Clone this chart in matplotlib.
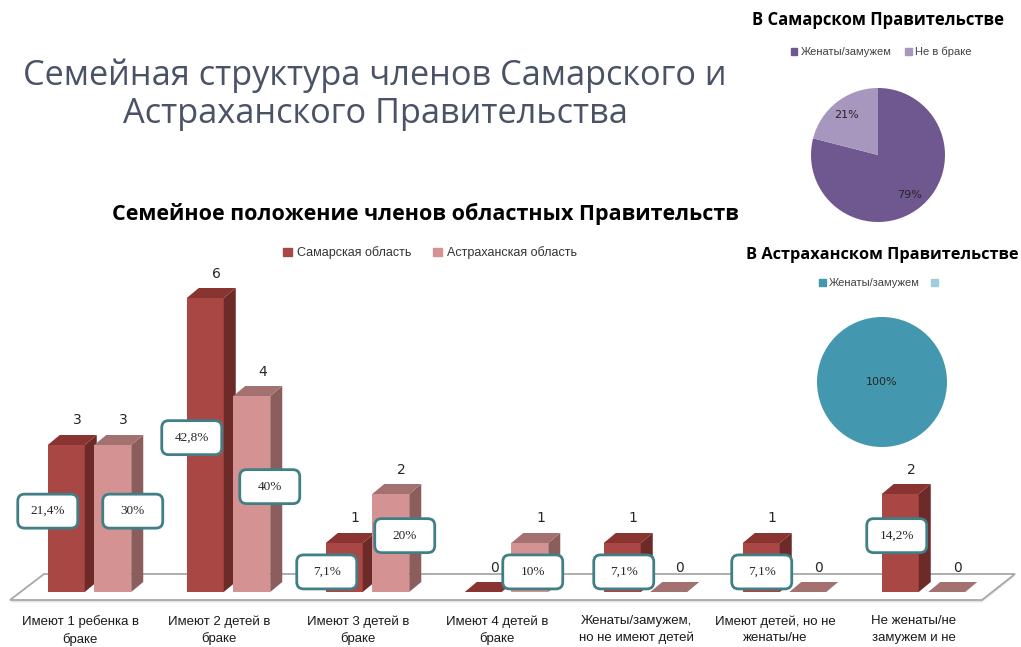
import numpy as np
import matplotlib
matplotlib.use('Agg')
import matplotlib.pyplot as plt
from matplotlib.patches import Polygon, FancyBboxPatch, Patch

# ---------------- data ----------------
categories = ['Имеют 1 ребенка в\nбраке', 'Имеют 2 детей в\nбраке', 'Имеют 3 детей в\nбраке',
              'Имеют 4 детей в\nбраке', 'Женаты/замужем,\nно не имеют детей',
              'Имеют детей, но не\nженаты/не', 'Не женаты/не\nзамужем и не']
series_names = ['Самарская область', 'Астраханская область']
samara = [3, 6, 1, 0, 1, 1, 2]
astrakhan = [3, 4, 2, 1, 0, 0, 0]
samara_pct = ['21,4%', '42,8%', '7,1%', '', '7,1%', '7,1%', '14,2%']
astrakhan_pct = ['30%', '40%', '20%', '10%', '', '', '']

samara_pie_labels = ['Женаты/замужем', 'Не в браке']
samara_pie = [79, 21]
astrakhan_pie_labels = ['Женаты/замужем', '']
astrakhan_pie = [100, 0]

main_title = 'Семейная структура членов Самарского и\nАстраханского Правительства'
chart_title = 'Семейное положение членов областных Правительств'
samara_pie_title = 'В Самарском Правительстве'
astrakhan_pie_title = 'В Астраханском Правительстве'

# ---------------- layout ----------------
W, H = 1021, 647
PXX, PXY = 139.0, 49.0          # pixels per category / per unit value
X0PX, BASEPX = 89.5, 592.0      # pixel of category 0 centre / baseline
fig = plt.figure(figsize=(W / 100, H / 100), dpi=100)
fig.patch.set_facecolor('white')
ax = fig.add_axes([0, 0, 1, 1])
ax.axis('off')

NARROW = ['Liberation Sans Narrow', 'Liberation Sans', 'DejaVu Sans']

def px2d(x, y):
    return ((x - X0PX) / PXX, (BASEPX - y) / PXY)

S_FRONT, S_SIDE, S_TOP = '#a94744', '#6c2a28', '#8a3431'
A_FRONT, A_SIDE, A_TOP = '#d49392', '#8b5e5d', '#a37170'
bw = 37 / PXX
off = 23.25 / PXX
ddx, ddy = 12 / PXX, 10 / PXY

# floor
floor = [px2d(10, 600), px2d(982, 600), px2d(1015, 574), px2d(44, 574)]
shadow = [(x, y - 2.5 / PXY) for x, y in floor]
ax.add_patch(Polygon(shadow, closed=True, facecolor='#e6e6e6', edgecolor='none', zorder=0))
ax.add_patch(Polygon(floor, closed=True, facecolor='white', edgecolor='#a8a8a8', lw=1.3, zorder=1))

x = np.arange(len(categories))

def bar3d(c, h, front, side, top, z):
    l, r = c - bw / 2, c + bw / 2
    if h > 0:
        ax.bar(c, h, width=bw, color=front, edgecolor='none', zorder=z)
        ax.add_patch(Polygon([(r, 0), (r + ddx, ddy), (r + ddx, h + ddy), (r, h)],
                             closed=True, facecolor=side, edgecolor='none', zorder=z))
    ax.add_patch(Polygon([(l, h), (r, h), (r + ddx, h + ddy), (l + ddx, h + ddy)],
                         closed=True, facecolor=top, edgecolor='none', zorder=z))

for i in x:
    bar3d(i - off, samara[i], S_FRONT, S_SIDE, S_TOP, 2 + i * 2)
    bar3d(i + off, astrakhan[i], A_FRONT, A_SIDE, A_TOP, 3 + i * 2)

# value labels
for i in x:
    for c, v in ((i - off, samara[i]), (i + off, astrakhan[i])):
        ax.text(c + 11 / PXX, v + 0.5, str(v), ha='center', va='center',
                fontsize=10, color='#262626', family='DejaVu Sans', zorder=30)

# percentage boxes
s_box_dx = [-18.5, -13.5, -17.5, 0, 1.5, 0.5, -3.5]
a_box_dx = [20, 18, 14, 3, 0, 0, 0]
bwid, bhei = 60 / PXX, 34 / PXY
def pct_box(cx, v, txt):
    cy = 0.41 if v <= 1 else v / 2 + 0.15
    ax.add_patch(FancyBboxPatch((cx - bwid / 2, cy - bhei / 2), bwid, bhei,
                                boxstyle='round,pad=0,rounding_size=0.05',
                                mutation_aspect=PXX / PXY,
                                facecolor='white', edgecolor='#417f86', lw=2, zorder=40))
    ax.text(cx, cy, txt, ha='center', va='center', fontsize=9.5,
            family='Liberation Serif', color='#262626', zorder=41)

for i in x:
    if samara_pct[i]:
        pct_box(i - off + s_box_dx[i] / PXX, samara[i], samara_pct[i])
    if astrakhan_pct[i]:
        pct_box(i + off + a_box_dx[i] / PXX, astrakhan[i], astrakhan_pct[i])

# category labels
cat_texts = []
for i in x:
    t = ax.text(i - 9.5 / PXX, px2d(0, 615)[1], categories[i], ha='center', va='top',
                fontsize=9.5, family=NARROW,
                color='#1a1a1a', linespacing=1.5, zorder=30)
    cat_texts.append(t)

ax.set_xlim(px2d(0, 0)[0], px2d(W, 0)[0])
ax.set_ylim(px2d(0, H)[1], px2d(0, 0)[1])

# ---------------- texts ----------------
renderer = fig.canvas.get_renderer()
def fit(t, target):
    bb = t.get_window_extent(renderer)
    t.set_fontsize(t.get_fontsize() * target / bb.width)

t = fig.text(375 / W, 1 - 95 / H, main_title, ha='center', va='center', color='#4a5366',
             family='Open Sans', fontsize=22, linespacing=1.15)
fit(t, 706)
t = fig.text(425 / W, 1 - 214 / H, chart_title, ha='center', va='center', color='black',
             family='Open Sans', weight='bold', fontsize=15)
fit(t, 630)
fit(cat_texts[0], 118)
for ct in cat_texts[1:]:
    ct.set_fontsize(cat_texts[0].get_fontsize())

t = fig.text(878 / W, 1 - 20 / H, samara_pie_title, ha='center', va='center', color='black',
             family='Open Sans', weight='bold', fontsize=11)
fit(t, 252)
t = fig.text(882 / W, 1 - 255 / H, astrakhan_pie_title, ha='center', va='center', color='black',
             family='Open Sans', weight='bold', fontsize=11)
fit(t, 272)

# bar legend
fig.legend([Patch(color=S_FRONT), Patch(color=A_FRONT)], series_names, loc='center',
           bbox_to_anchor=(430 / W, 1 - 253 / H), ncol=2, frameon=False,
           prop={'family': NARROW, 'size': 9},
           handlelength=0.7, handleheight=0.7, handletextpad=0.4, columnspacing=1.8,
           labelcolor='#333333')

# ---------------- pies ----------------
def pie_axes(cx, cy, r):
    return fig.add_axes([(cx - r) / W, (H - cy - r) / H, 2 * r / W, 2 * r / H])

P_MAIN, P_LIGHT = '#6f5790', '#a797bf'
pax = pie_axes(878, 155, 67)
pax.pie(samara_pie, colors=[P_MAIN, P_LIGHT], startangle=90, counterclock=False,
        autopct=lambda p: f'{p:.0f}%' if p > 0 else '', pctdistance=0.76,
        textprops={'fontsize': 8, 'color': '#262626'}, radius=1)
pax.set_xlim(-1, 1); pax.set_ylim(-1, 1); pax.set_aspect('equal')
fig.legend([Patch(color=P_MAIN), Patch(color=P_LIGHT)], samara_pie_labels, loc='center',
           bbox_to_anchor=(881 / W, 1 - 52 / H), ncol=2, frameon=False,
           prop={'family': NARROW, 'size': 8},
           handlelength=0.6, handleheight=0.6, handletextpad=0.3, columnspacing=1.2,
           labelcolor='#404040')

T_MAIN, T_LIGHT = '#4397ae', '#9fcddd'
pax2 = pie_axes(882, 382, 65)
pax2.pie(astrakhan_pie, colors=[T_MAIN, T_LIGHT], startangle=90, counterclock=False,
         autopct=lambda p: f'{p:.0f}%' if p > 0 else '', pctdistance=0.0,
         textprops={'fontsize': 8, 'color': '#262626'}, radius=1)
pax2.set_xlim(-1, 1); pax2.set_ylim(-1, 1); pax2.set_aspect('equal')
fig.legend([Patch(color=T_MAIN), Patch(color=T_LIGHT)], astrakhan_pie_labels, loc='center',
           bbox_to_anchor=(880 / W, 1 - 283 / H), ncol=2, frameon=False,
           prop={'family': NARROW, 'size': 8},
           handlelength=0.6, handleheight=0.6, handletextpad=0.3, columnspacing=1.0,
           labelcolor='#404040')

fig.savefig('out.png', dpi=100, facecolor='white')
